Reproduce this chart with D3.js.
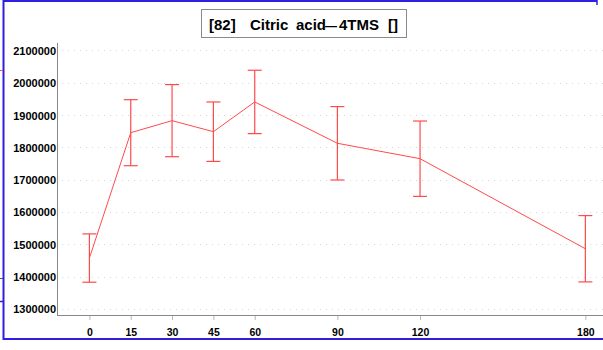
<!DOCTYPE html>
<html>
<head>
<meta charset="utf-8">
<script src="https://cdn.jsdelivr.net/npm/d3@7/dist/d3.min.js"></script>
<style>
  html, body { margin: 0; padding: 0; background: #fff; }
  svg { display: block; }
  .tick text { font-family: "Liberation Sans", Arial, sans-serif; font-weight: bold; fill: #000; }
</style>
</head>
<body>
<svg id="chart" width="603" height="350"></svg>
<script>
// Time course of citric acid (4TMS derivative): mean and standard deviation per time point
const times = [0, 15, 30, 45, 60, 90, 120, 180];
const means = [1457600, 1845500, 1882700, 1848600, 1940600, 1812700, 1765000, 1486400];
const sds   = [74750, 102150, 111500, 91950, 98000, 113600, 116550, 102600];
const yTicks = [1300000, 1400000, 1500000, 1600000, 1700000, 1800000, 1900000, 2000000, 2100000];
const xTicks = [0, 15, 30, 45, 60, 90, 120, 180];
const titleParts = ["[82]", "Citric", "acid", "\u2014", "4TMS", "[]"];

const svg = d3.select("#chart");
const W = 603, H = 350;
const plot = { left: 58, right: 603, top: 43, bottom: 315 };

const x = d3.scaleLinear().domain([-11.4, 186.4]).range([plot.left, plot.right]);
const y = d3.scaleLinear().domain([1281400, 2123000]).range([plot.bottom, plot.top]);

const red = "#ff4a4a";

// outer window frame
const frame = svg.append("g").attr("stroke", "#2f1fe0").attr("fill", "none");
frame.append("line").attr("x1", 3).attr("x2", 597).attr("y1", 1).attr("y2", 1).attr("stroke-width", 2);
frame.append("line").attr("x1", 597).attr("x2", 597).attr("y1", 0).attr("y2", 5).attr("stroke-width", 1.5);
frame.append("line").attr("x1", 3.5).attr("x2", 3.5).attr("y1", 0).attr("y2", 340).attr("stroke-width", 2);
frame.append("line").attr("x1", 3).attr("x2", 603).attr("y1", 339).attr("y2", 339).attr("stroke-width", 2);
frame.append("line").attr("x1", 0).attr("x2", 4).attr("y1", 301.5).attr("y2", 301.5).attr("stroke-width", 1.5);
svg.append("line").attr("x1", 0).attr("x2", 3).attr("y1", 70.5).attr("y2", 70.5).attr("stroke", red);
svg.append("line").attr("x1", 0).attr("x2", 3).attr("y1", 278.5).attr("y2", 278.5).attr("stroke", "#555");

// horizontal dotted grid
svg.append("g").selectAll("line").data(yTicks).join("line")
  .attr("x1", 62).attr("x2", W)
  .attr("y1", d => Math.round(y(d)) + 0.5).attr("y2", d => Math.round(y(d)) + 0.5)
  .attr("stroke", "#d8d8d8").attr("stroke-dasharray", "1,5");

// y axis labels
const yAxis = svg.append("g").attr("transform", `translate(${plot.left - 1},0)`)
  .call(d3.axisLeft(y).tickValues(yTicks).tickSize(0).tickPadding(1).tickFormat(d3.format("d")));
yAxis.select(".domain").remove();
yAxis.selectAll("text").style("font-size", "11px").attr("dy", "0.36em");

// x axis with ticks
const xAxis = svg.append("g").attr("transform", `translate(0,${plot.bottom})`)
  .call(d3.axisBottom(x).tickValues(xTicks).tickSize(5).tickPadding(9).tickFormat(d3.format("d")));
xAxis.select(".domain").remove();
xAxis.selectAll(".tick line").attr("stroke", "#b8b8b8");
xAxis.selectAll("text").style("font-size", "10.5px");

// axis lines
svg.append("line").attr("x1", plot.left - 0.5).attr("x2", plot.left - 0.5)
  .attr("y1", plot.top).attr("y2", plot.bottom).attr("stroke", "#888");
svg.append("line").attr("x1", plot.left - 1).attr("x2", W)
  .attr("y1", plot.bottom + 0.5).attr("y2", plot.bottom + 0.5).attr("stroke", "#888");

// data
const data = times.map((t, i) => ({ t, m: means[i], s: sds[i] }));

// error bars
const eb = svg.append("g").attr("stroke", red).attr("stroke-width", 1.2).attr("fill", "none");
eb.selectAll("line.v").data(data).join("line").attr("class", "v")
  .attr("x1", d => x(d.t)).attr("x2", d => x(d.t))
  .attr("y1", d => y(d.m + d.s)).attr("y2", d => y(d.m - d.s));
eb.selectAll("line.top").data(data).join("line").attr("class", "top")
  .attr("x1", d => x(d.t) - 7).attr("x2", d => x(d.t) + 7)
  .attr("y1", d => y(d.m + d.s)).attr("y2", d => y(d.m + d.s));
eb.selectAll("line.bot").data(data).join("line").attr("class", "bot")
  .attr("x1", d => x(d.t) - 7).attr("x2", d => x(d.t) + 7)
  .attr("y1", d => y(d.m - d.s)).attr("y2", d => y(d.m - d.s));

// mean line
svg.append("path").datum(data)
  .attr("fill", "none").attr("stroke", red).attr("stroke-width", 1)
  .attr("d", d3.line().x(d => x(d.t)).y(d => y(d.m)));

// title box
svg.append("rect").attr("x", 201.5).attr("y", 9.5).attr("width", 205).attr("height", 28)
  .attr("fill", "#fff").attr("stroke", "#8a8a8a");
const titleX = [209, 250, 296, 325, 339, 388];
const titleSize = [15, 15, 15, 12, 15, 15];
svg.append("text")
  .attr("y", 29.5)
  .style("font-family", "'Liberation Sans', Arial, sans-serif")
  .style("font-weight", "bold").attr("fill", "#000")
  .selectAll("tspan").data(titleParts).join("tspan")
  .attr("x", (d, i) => titleX[i])
  .style("font-size", (d, i) => titleSize[i] + "px")
  .text(d => d);
</script>
</body>
</html>
